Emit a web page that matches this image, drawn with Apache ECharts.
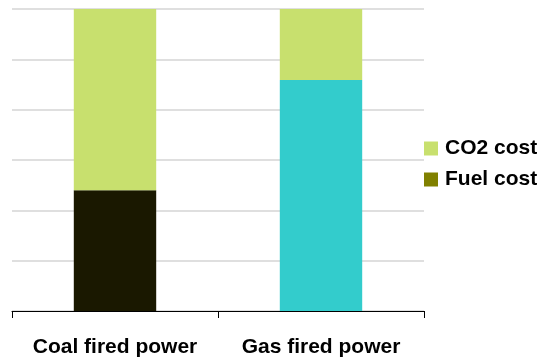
<!DOCTYPE html>
<html>
<head>
<meta charset="utf-8">
<script src="https://cdn.jsdelivr.net/npm/echarts@6/dist/echarts.min.js"></script>
<style>
  html, body { margin: 0; padding: 0; background: #fff; }
  #chart { width: 541px; height: 358px; }
</style>
</head>
<body>
<div id="chart"></div>
<script>
// Share of generation cost, percent
const categories = ['Coal fired power', 'Gas fired power'];
const fuelCost = [40, 76.5];
const co2Cost = [60, 23.5];
const fuelBarColors = ['#1a1800', '#33cccc'];

const labelFont = { fontFamily: 'Liberation Sans, Arial', fontWeight: 'bold', fontSize: 21, color: '#000' };

const chart = echarts.init(document.getElementById('chart'));
chart.setOption({
  animation: false,
  grid: { left: 12, right: 117, top: 9, bottom: 46 },
  legend: {
    orient: 'vertical',
    left: 419,
    top: 133,
    itemWidth: 14,
    itemHeight: 14,
    itemGap: 10,
    icon: 'rect',
    data: ['CO2 cost', 'Fuel cost'],
    textStyle: Object.assign({ lineHeight: 21, padding: [0, 0, 0, 2] }, labelFont)
  },
  xAxis: {
    type: 'category',
    data: categories,
    axisLine: { lineStyle: { color: '#000', width: 1 } },
    axisTick: { show: true, interval: 0, length: 7, lineStyle: { color: '#000' } },
    axisLabel: Object.assign({ margin: 26, interval: 0, hideOverlap: false }, labelFont)
  },
  yAxis: {
    type: 'value',
    min: 0,
    max: 100,
    interval: 100 / 6,
    axisLabel: { show: false },
    axisLine: { show: false },
    axisTick: { show: false },
    splitLine: { lineStyle: { color: '#d4d4d4', width: 1.5 } }
  },
  series: [
    {
      name: 'Fuel cost',
      type: 'bar',
      stack: 'cost',
      barWidth: '40%',
      itemStyle: { color: '#808000' },
      data: fuelCost.map((v, i) => ({ value: v, itemStyle: { color: fuelBarColors[i] } }))
    },
    {
      name: 'CO2 cost',
      type: 'bar',
      stack: 'cost',
      barWidth: '40%',
      itemStyle: { color: '#c8e06e' },
      data: co2Cost
    }
  ]
});
</script>
</body>
</html>
